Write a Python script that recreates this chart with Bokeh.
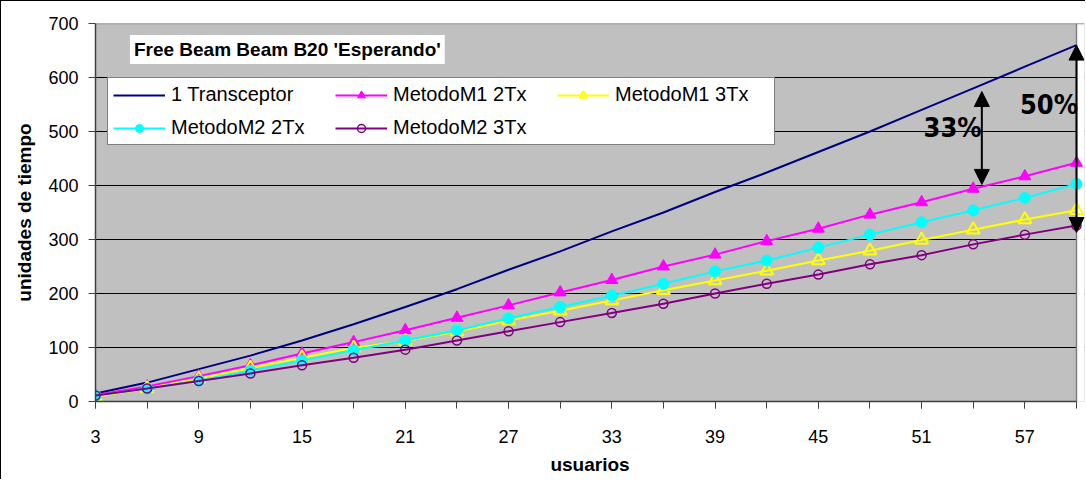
from bokeh.plotting import figure
from bokeh.models import (Range1d, FixedTicker, Legend, LegendItem, Label, Arrow, NormalHead,
                          BoxAnnotation, Span)
from bokeh.embed import file_html
from bokeh.resources import INLINE

usuarios = [3, 6, 9, 12, 15, 18, 21, 24, 27, 30, 33, 36, 39, 42, 45, 48, 51, 54, 57, 60]
tick_labels = [3, 9, 15, 21, 27, 33, 39, 45, 51, 57]

transceptor = [15, 35, 60, 85, 113, 143, 175, 208, 244, 278, 315, 350, 388, 424, 462, 500, 540, 580, 620, 660]
m1_2tx = [12, 28, 47, 67, 89, 110, 132, 155, 178, 202, 225, 250, 272, 297, 320, 346, 369, 394, 417, 442]
m1_3tx = [9, 24, 42, 62, 81, 99, 112, 129, 150, 168, 187, 206, 224, 242, 261, 279, 299, 318, 337, 354]
m2_2tx = [11, 24, 39, 57, 76, 95, 113, 132, 154, 175, 196, 218, 241, 261, 285, 309, 332, 354, 377, 403]
m2_3tx = [11, 24, 38, 52, 67, 81, 96, 113, 130, 147, 164, 181, 200, 218, 235, 254, 271, 291, 309, 326]

FONT = "Liberation Sans"

p = figure(width=1084, height=478, output_backend="svg", toolbar_location=None,
           x_range=Range1d(3, 60.465), y_range=Range1d(0, 700),
           frame_width=989, frame_height=378,
           min_border_left=94, min_border_right=1, min_border_top=22, min_border_bottom=78)
p.styles = {"border-top": "1px solid black", "border-left": "1px solid black"}

p.background_fill_color = "#C0C0C0"
p.border_fill_color = "white"
p.outline_line_color = None

p.xgrid.visible = False
p.ygrid.grid_line_color = "black"
p.ygrid.grid_line_width = 1
p.yaxis.ticker = FixedTicker(ticks=list(range(0, 701, 100)))
p.xaxis.ticker = FixedTicker(ticks=tick_labels, minor_ticks=usuarios)
p.xaxis.bounds = (3, 60)

for ax in (p.xaxis[0], p.yaxis[0]):
    ax.axis_line_color = "#404040"
    ax.axis_line_width = 1.5
    ax.major_tick_line_color = "#404040"
    ax.minor_tick_line_color = "#404040"
    ax.major_tick_in = 0
    ax.major_tick_out = 7
    ax.minor_tick_in = 0
    ax.minor_tick_out = 7
    ax.major_label_text_font = FONT
    ax.major_label_text_font_size = "18px"
    ax.major_label_text_color = "black"
    ax.axis_label_text_font = FONT
    ax.axis_label_text_font_style = "bold"
    ax.axis_label_text_font_size = "19px"
    ax.axis_label_text_color = "black"

p.yaxis.minor_tick_out = 0
p.xaxis.major_label_standoff = 21
p.yaxis.major_label_standoff = 10
p.xaxis.axis_label = "usuarios"
p.yaxis.axis_label = "unidades de tiempo"
p.xaxis.axis_label_standoff = 8
p.yaxis.axis_label_standoff = 10

# white strip right of the plot area (x > 60) and the gray plot-area edges
p.add_layout(BoxAnnotation(left=60, right=60.465, bottom=0, top=700, fill_color="white",
                           fill_alpha=1, line_color=None, level="underlay"))
p.add_layout(Span(location=60, dimension="height", line_color="#808080", line_width=1.5,
                  level="underlay"))
p.add_layout(Span(location=700, dimension="width", line_color="#808080", line_width=1.5,
                  level="underlay"))

items = []
l1 = p.line(usuarios, transceptor, color="#000080", line_width=2)
items.append(LegendItem(label="1 Transceptor", renderers=[l1]))

l2 = p.line(usuarios, m1_2tx, color="#FF00FF", line_width=2)
s2 = p.scatter(usuarios, m1_2tx, marker="triangle", size=12, fill_color="#FF00FF", line_color="#FF00FF")
items.append(LegendItem(label="MetodoM1 2Tx", renderers=[l2, s2]))

l3 = p.line(usuarios, m1_3tx, color="#FFFF00", line_width=2)
s3 = p.scatter(usuarios, m1_3tx, marker="triangle", size=13, fill_color=None, line_color="#FFFF00", line_width=2)
items.append(LegendItem(label="MetodoM1 3Tx", renderers=[l3, s3]))

l4 = p.line(usuarios, m2_2tx, color="#00FFFF", line_width=2)
s4 = p.scatter(usuarios, m2_2tx, marker="circle", size=11, fill_color="#00FFFF", line_color="#00FFFF")
items.append(LegendItem(label="MetodoM2 2Tx", renderers=[l4, s4]))

l5 = p.line(usuarios, m2_3tx, color="#800080", line_width=2)
s5 = p.scatter(usuarios, m2_3tx, marker="circle", size=9, fill_color=None, line_color="#800080", line_width=1.5)
items.append(LegendItem(label="MetodoM2 3Tx", renderers=[l5, s5]))

legend = Legend(items=items, location=(12, 256), orientation="horizontal", ncols=3)
legend.label_text_font = FONT
legend.label_text_font_size = "20px"
legend.label_text_color = "black"
legend.glyph_width = 52
legend.glyph_height = 20
legend.label_width = 154
legend.label_height = 20
legend.label_standoff = 6
legend.spacing = 10
legend.padding = 5
legend.margin = 0
legend.border_line_color = "black"
legend.border_line_width = 1
legend.background_fill_color = "white"
legend.background_fill_alpha = 1
p.add_layout(legend, "center")

title = Label(x=5.0, y=652, text="Free Beam Beam B20 'Esperando'", text_font=FONT,
              text_font_style="bold", text_font_size="19px", text_baseline="middle",
              text_align="left", text_color="black", background_fill_color="white", padding=4)
p.add_layout(title)

a1 = Arrow(start=NormalHead(size=15, fill_color="black", line_color="black"),
           end=NormalHead(size=15, fill_color="black", line_color="black"),
           x_start=54.5, y_start=402, x_end=54.5, y_end=574, line_width=2, line_color="black")
a2 = Arrow(start=NormalHead(size=15, fill_color="black", line_color="black"),
           end=NormalHead(size=15, fill_color="black", line_color="black"),
           x_start=60, y_start=313, x_end=60, y_end=660, line_width=2, line_color="black")
p.add_layout(a1)
p.add_layout(a2)

for txt, xx, yy in (("33%", 52.8, 507), ("50%", 58.4, 550)):
    p.add_layout(Label(x=xx, y=yy, text=txt, text_font="DejaVu Sans Condensed",
                       text_font_style="bold", text_font_size="27px",
                       text_align="center", text_baseline="middle", text_color="black"))

open("out.html", "w").write(file_html(p, INLINE))
